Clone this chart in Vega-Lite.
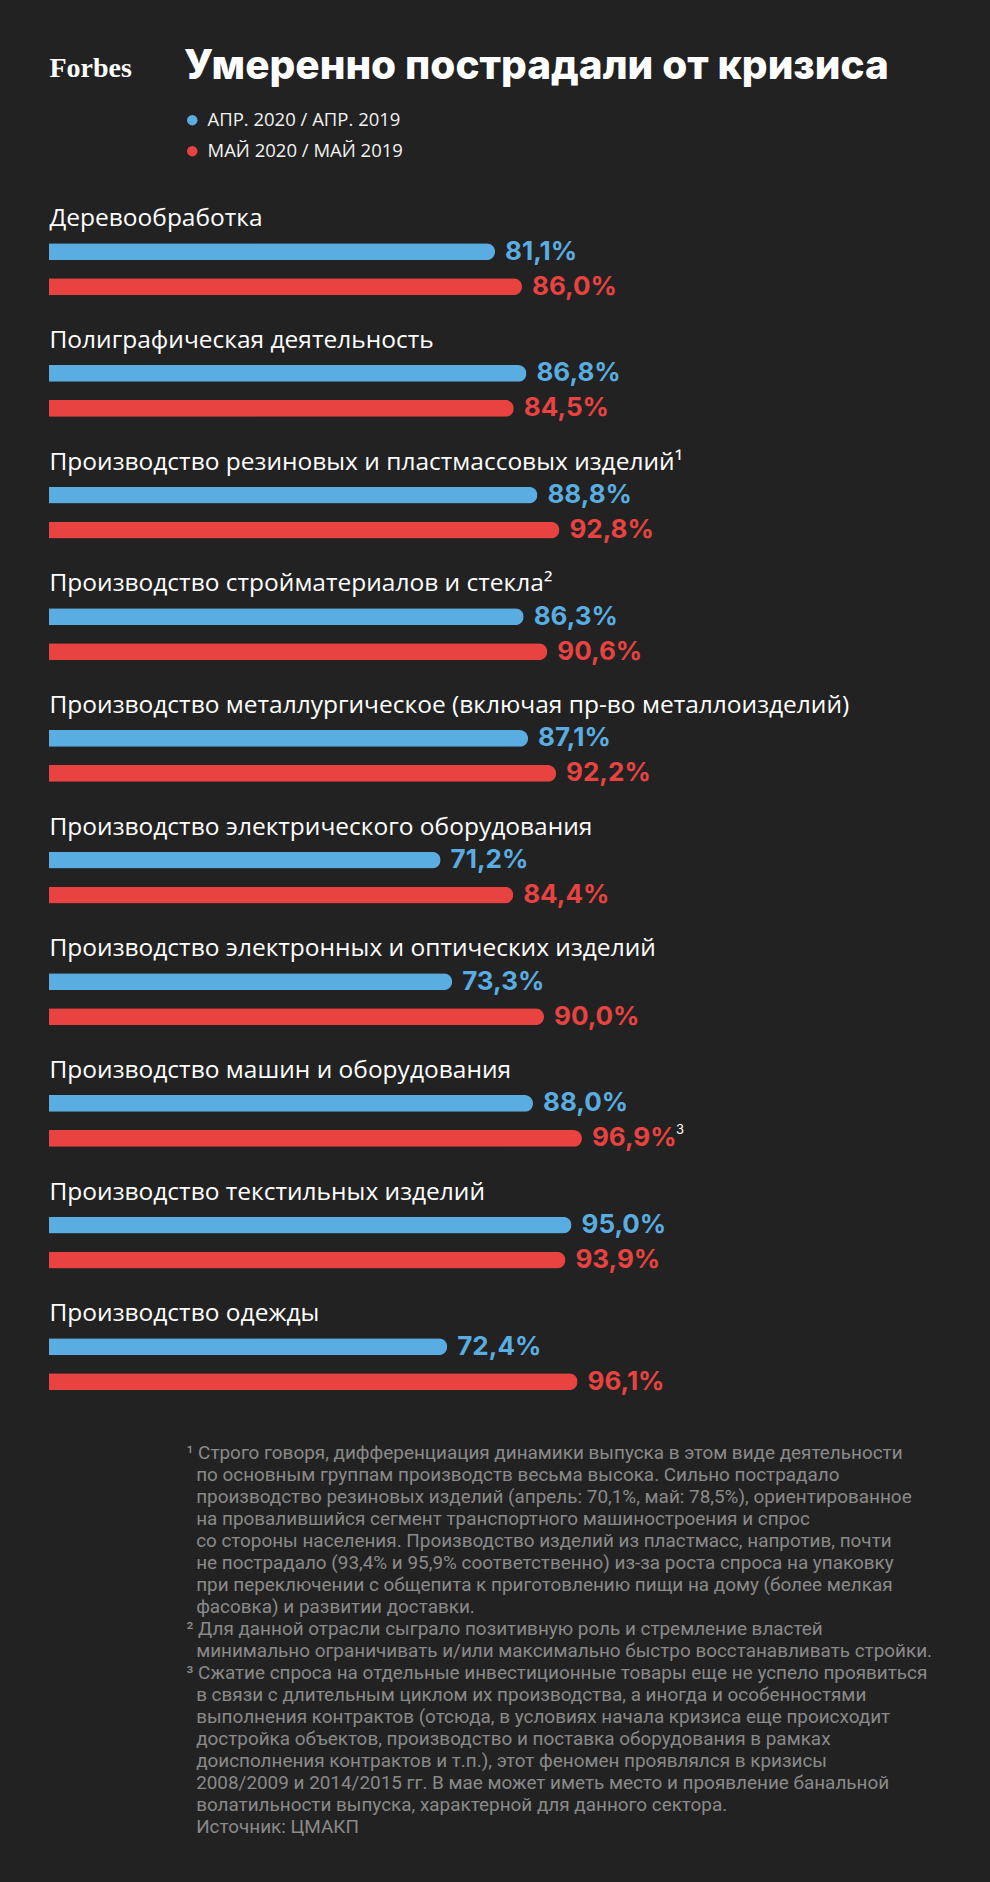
{
  "$schema": "https://vega.github.io/schema/vega-lite/v6.json",
  "autosize": "none",
  "width": 550,
  "height": 1216.7,
  "padding": {"left": 49, "top": 208.4, "right": 391, "bottom": 456.9},
  "background": "#222222",
  "config": {
    "view": {"stroke": null},
    "locale": {"number": {"decimal": ",", "thousands": " ", "grouping": [3], "currency": ["", " ₽"]}}
  },
  "title": {
    "text": "Умеренно пострадали от кризиса",
    "anchor": "start",
    "frame": "group",
    "dx": 135,
    "offset": -64.6,
    "baseline": "alphabetic",
    "font": "Inter",
    "fontSize": 40.5,
    "fontWeight": 800,
    "color": "#ffffff"
  },
  "data": {
    "values": [
      {"cat": "Деревообработка", "series": "АПР. 2020 / АПР. 2019", "value": 0.811},
      {"cat": "Деревообработка", "series": "МАЙ 2020 / МАЙ 2019", "value": 0.860},
      {"cat": "Полиграфическая деятельность", "series": "АПР. 2020 / АПР. 2019", "value": 0.868},
      {"cat": "Полиграфическая деятельность", "series": "МАЙ 2020 / МАЙ 2019", "value": 0.845},
      {"cat": "Производство резиновых и пластмассовых изделий¹", "series": "АПР. 2020 / АПР. 2019", "value": 0.888},
      {"cat": "Производство резиновых и пластмассовых изделий¹", "series": "МАЙ 2020 / МАЙ 2019", "value": 0.928},
      {"cat": "Производство стройматериалов и стекла²", "series": "АПР. 2020 / АПР. 2019", "value": 0.863},
      {"cat": "Производство стройматериалов и стекла²", "series": "МАЙ 2020 / МАЙ 2019", "value": 0.906},
      {"cat": "Производство металлургическое (включая пр-во металлоизделий)", "series": "АПР. 2020 / АПР. 2019", "value": 0.871},
      {"cat": "Производство металлургическое (включая пр-во металлоизделий)", "series": "МАЙ 2020 / МАЙ 2019", "value": 0.922},
      {"cat": "Производство электрического оборудования", "series": "АПР. 2020 / АПР. 2019", "value": 0.712},
      {"cat": "Производство электрического оборудования", "series": "МАЙ 2020 / МАЙ 2019", "value": 0.844},
      {"cat": "Производство электронных и оптических изделий", "series": "АПР. 2020 / АПР. 2019", "value": 0.733},
      {"cat": "Производство электронных и оптических изделий", "series": "МАЙ 2020 / МАЙ 2019", "value": 0.900},
      {"cat": "Производство машин и оборудования", "series": "АПР. 2020 / АПР. 2019", "value": 0.880},
      {"cat": "Производство машин и оборудования", "series": "МАЙ 2020 / МАЙ 2019", "value": 0.969, "note": "3"},
      {"cat": "Производство текстильных изделий", "series": "АПР. 2020 / АПР. 2019", "value": 0.950},
      {"cat": "Производство текстильных изделий", "series": "МАЙ 2020 / МАЙ 2019", "value": 0.939},
      {"cat": "Производство одежды", "series": "АПР. 2020 / АПР. 2019", "value": 0.724},
      {"cat": "Производство одежды", "series": "МАЙ 2020 / МАЙ 2019", "value": 0.961}
    ]
  },
  "encoding": {
    "y": {
      "field": "cat", "type": "nominal", "sort": null,
      "scale": {"paddingInner": 0, "paddingOuter": 0},
      "axis": {
        "title": "Forbes", "titleAngle": 0, "titleX": 0, "titleY": -132,
        "titleAlign": "left", "titleBaseline": "alphabetic",
        "titleFont": "Liberation Serif", "titleFontWeight": "bold", "titleFontSize": 28, "titleColor": "#ffffff",
        "domain": false, "ticks": false, "tickSize": 0, "grid": false,
        "labelAlign": "left", "labelBaseline": "alphabetic", "labelPadding": 0, "labelOffset": -43,
        "labelFont": "Open Sans", "labelFontSize": 24.5, "labelColor": "#ffffff", "labelLimit": 1000
      }
    },
    "yOffset": {
      "field": "series", "type": "nominal", "sort": null,
      "scale": {"paddingInner": 0.52, "paddingOuter": 0.998}
    },
    "x": {
      "field": "value", "type": "quantitative",
      "scale": {"domain": [0, 1]},
      "axis": {
        "labels": false, "ticks": false, "domain": false, "grid": false,
        "title": [
          "¹ Строго говоря, дифференциация динамики выпуска в этом виде деятельности",
          "\u2060\u2002по основным группам производств весьма высока. Сильно пострадало",
          "\u2060\u2002производство резиновых изделий (апрель: 70,1%, май: 78,5%), ориентированное",
          "\u2060\u2002на провалившийся сегмент транспортного машиностроения и спрос",
          "\u2060\u2002со стороны населения. Производство изделий из пластмасс, напротив, почти",
          "\u2060\u2002не пострадало (93,4% и 95,9% соответственно) из-за роста спроса на упаковку",
          "\u2060\u2002при переключении с общепита к приготовлению пищи на дому (более мелкая",
          "\u2060\u2002фасовка) и развитии доставки.",
          "² Для данной отрасли сыграло позитивную роль и стремление властей",
          "\u2060\u2002минимально ограничивать и/или максимально быстро восстанавливать стройки.",
          "³ Сжатие спроса на отдельные инвестиционные товары еще не успело проявиться",
          "\u2060\u2002в связи с длительным циклом их производства, а иногда и особенностями",
          "\u2060\u2002выполнения контрактов (отсюда, в условиях начала кризиса еще происходит",
          "\u2060\u2002достройка объектов, производство и поставка оборудования в рамках",
          "\u2060\u2002доисполнения контрактов и т.п.), этот феномен проявлялся в кризисы",
          "\u2060\u20022008/2009 и 2014/2015 гг. В мае может иметь место и проявление банальной",
          "\u2060\u2002волатильности выпуска, характерной для данного сектора.",
          "\u2060\u2002Источник: ЦМАКП"
        ],
        "titleX": 137, "titleY": 18, "titleAlign": "left", "titleAnchor": "start", "titleBaseline": "top",
        "titleFont": "Roboto", "titleFontSize": 18.9, "titleFontWeight": "normal", "titleColor": "#8a8a8a", "titleLineHeight": 22
      }
    },
    "color": {
      "field": "series", "type": "nominal", "sort": null,
      "scale": {"domain": ["АПР. 2020 / АПР. 2019", "МАЙ 2020 / МАЙ 2019"], "range": ["#5aade0", "#e84341"]},
      "legend": {
        "orient": "none", "legendX": 134, "legendY": -97.5, "title": null,
        "symbolType": "circle", "symbolSize": 110, "symbolStrokeWidth": 0, "symbolOpacity": 1,
        "labelFont": "Open Sans", "labelFontSize": 18.5, "labelColor": "#f2f2f2", "labelLimit": 1000,
        "rowPadding": 12, "labelOffset": 6
      }
    }
  },
  "layer": [
    {"mark": {"type": "bar", "cornerRadiusEnd": 8.5}},
    {
      "mark": {"type": "text", "align": "left", "baseline": "middle", "dx": 10, "font": "Inter", "fontWeight": 700, "fontSize": 26},
      "encoding": {"text": {"field": "value", "type": "quantitative", "format": ".1%"}}
    },
    {
      "transform": [{"filter": "datum.note"}],
      "mark": {"type": "text", "align": "left", "baseline": "middle", "dx": 94, "dy": -8, "font": "Inter", "fontSize": 13},
      "encoding": {"text": {"field": "note"}, "color": {"value": "#ffffff"}}
    }
  ]
}
